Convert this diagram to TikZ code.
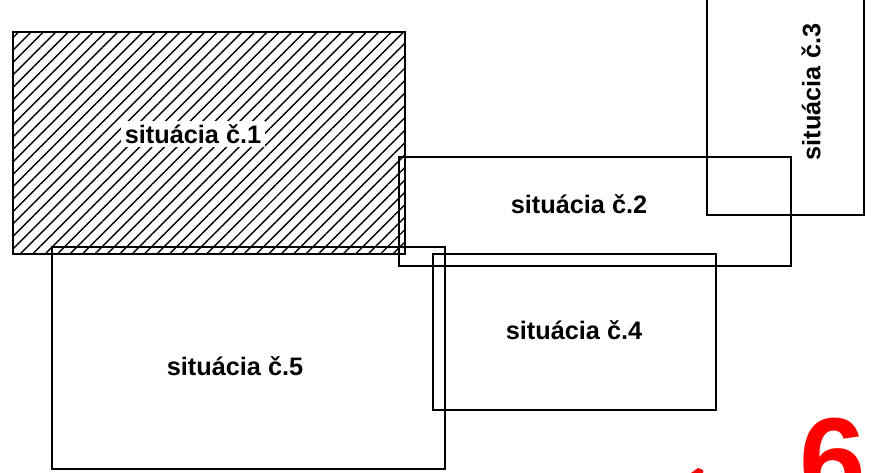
\documentclass[tikz,border=0pt]{standalone}
\usepackage{fontspec}
\setmainfont{Liberation Sans}
\usetikzlibrary{patterns.meta}

\begin{document}
\begin{tikzpicture}
[x=0.02cm,y=-0.02cm,
  situbox/.style={draw,line width=1.1pt},
  situlabel/.style={font=\bfseries\fontsize{14.4}{16}\selectfont,inner sep=2pt},
  pagemark/.style={text=red,font=\bfseries\fontsize{68}{76}\selectfont,inner sep=0pt}]
\useasboundingbox (0,0) rectangle (873,473);
\clip (0,0) rectangle (873,473);
%% corners of the situations
\foreach \boxname/\xa/\ya/\xb/\yb in {s1/13/32/405/254, s2/399/157/791/266,
  s3/707/-20/864/215, s4/433/254/716/410, s5/52/247/445/469}
{
  \coordinate (\boxname nw) at (\xa,\ya);
  \coordinate (\boxname se) at (\xb,\yb);
}
%% hatching of the first one
\fill[pattern={Lines[angle=45,distance=5pt,line width=0.8pt]}] (s1nw) rectangle (s1se);
%% frames
\foreach \boxname in {s1,s2,s3,s4,s5}
{
  \draw[situbox] (\boxname nw) rectangle (\boxname se);
}
%% labels
\node[situlabel,fill=white] (l1) at (193,134) {situácia č.1};
\node[situlabel] (l2) at (579,204) {situácia č.2};
\node[situlabel,rotate=90] (l3) at (811,92) {situácia č.3};
\node[situlabel] (l4) at (574,330) {situácia č.4};
\node[situlabel] (l5) at (235,366) {situácia č.5};
%% red page mark, cut by the border
\node[pagemark,anchor=north west] (p6) at (799,418) {6};
\fill[red] (691,473) -- (698,468) -- (703,470) -- (703,473) -- cycle;
\end{tikzpicture}
\end{document}
